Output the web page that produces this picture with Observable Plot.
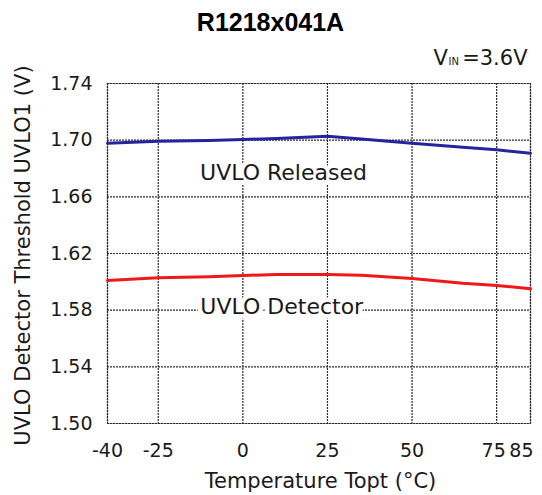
<!DOCTYPE html>
<html><head><meta charset="utf-8">
<script src="https://cdn.jsdelivr.net/npm/d3@7"></script>
<script src="https://cdn.jsdelivr.net/npm/@observablehq/plot@0.6"></script>
<style>body{margin:0;background:#fff}</style>
</head><body><div id="chart"></div>
<script>
const temperatures = [-40, -25, -10, 0, 10, 25, 35, 50, 65, 75, 85];
const releasedV = [1.6978, 1.6993, 1.6998, 1.7005, 1.7012, 1.7028, 1.7008, 1.6979, 1.6950, 1.6932, 1.6908];
const detectorV = [1.6010, 1.6029, 1.6036, 1.6045, 1.6052, 1.6052, 1.6046, 1.6024, 1.5990, 1.5974, 1.5951];
const xTicks = [-40, -25, 0, 25, 50, 75, 85];
const yTicks = [1.50, 1.54, 1.58, 1.62, 1.66, 1.70, 1.74];
const seriesNames = ["UVLO Released", "UVLO Detector"];
const seriesColors = ["#24249c", "#f01818"];
const seriesLabelAt = [{x: 12, y: 1.677}, {x: 11.5, y: 1.582}];
const title = "R1218x041A";
const xLabel = "Temperature Topt (°C)";
const yLabel = "UVLO Detector Threshold UVLO1 (V)";
const condition = ["V", "IN", "=3.6V"];

const series = [releasedV, detectorV].map((vals, s) =>
  temperatures.map((t, i) => ({t, v: vals[i], s})));

const grid = {stroke: "#2a2a2a", strokeOpacity: 1, strokeDasharray: "2,1", strokeWidth: 1.2};
const ink = "#1a1a1a";
const xFmt = d => String(d);
const xAxisOpts = {tickSize: 0, tickPadding: 20, fontSize: 19, label: null, tickFormat: xFmt};

const chart = Plot.plot({
  width: 542, height: 495,
  marginLeft: 107, marginRight: 12, marginTop: 83, marginBottom: 72,
  style: {fontFamily: "DejaVu Sans", fontSize: "19px", color: ink, background: "white"},
  x: {domain: [-40, 85]},
  y: {domain: [1.50, 1.74]},
  marks: [
    Plot.gridX(xTicks, grid),
    Plot.gridY(yTicks, grid),
    Plot.frame({stroke: "#2a2a2a", strokeDasharray: "2,1", strokeWidth: 1.2}),
    ...series.map((data, s) => Plot.line(data, {x: "t", y: "v", stroke: seriesColors[s], strokeWidth: 3})),
    ...seriesLabelAt.map((p, s) => Plot.text([p], {x: "x", y: "y", text: () => seriesNames[s], fontSize: 22, fill: ink, stroke: "white", strokeWidth: 9})),
    Plot.axisY(yTicks, {tickSize: 0, tickPadding: 15, tickFormat: d => d.toFixed(2), fontSize: 19, label: null}),
    Plot.axisX(xTicks.filter(d => d < 75), xAxisOpts),
    Plot.axisX(xTicks.filter(d => d === 75), {...xAxisOpts, dx: -3}),
    Plot.axisX(xTicks.filter(d => d === 85), {...xAxisOpts, textAnchor: "end", dx: 3}),
    Plot.text([xLabel], {text: d => d, frameAnchor: "bottom", lineAnchor: "middle", textAnchor: "middle", dx: 1.5, dy: 57.7, fontSize: 21, fill: ink}),
    Plot.text([yLabel], {text: d => d, frameAnchor: "left", lineAnchor: "middle", textAnchor: "middle", rotate: -90, dx: -84, dy: 2, fontSize: 21, fill: ink}),
    Plot.text([title], {text: d => d, frameAnchor: "top", lineAnchor: "middle", textAnchor: "middle", dx: -48.5, dy: -60.5, fontSize: 25, fontWeight: "bold", fontFamily: "Liberation Sans", fill: "#000"}),
    Plot.text([condition[0]], {text: d => d, frameAnchor: "top-left", lineAnchor: "middle", textAnchor: "start", dx: 326, dy: -25.5, fontSize: 21, fill: ink}),
    Plot.text([condition[1]], {text: d => d, frameAnchor: "top-left", lineAnchor: "middle", textAnchor: "start", dx: 341, dy: -22, fontSize: 10, fill: ink}),
    Plot.text([condition[2]], {text: d => d, frameAnchor: "top-right", lineAnchor: "middle", textAnchor: "end", dx: -3, dy: -25.5, fontSize: 21, fill: ink})
  ]
});
document.getElementById("chart").append(chart);
</script>
</body></html>
